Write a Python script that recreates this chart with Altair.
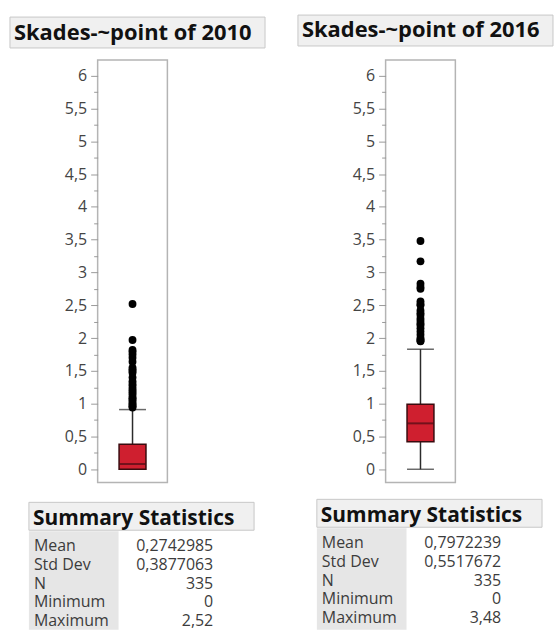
import altair as alt
import pandas as pd

# ---------------- data ----------------
years = ["2010", "2016"]
titles = ["Skades-~point of 2010", "Skades-~point of 2016"]
whisker_low = [0.0, 0.0]
q1 = [0.0, 0.42]
median = [0.08, 0.70]
q3 = [0.38, 0.99]
whisker_high = [0.91, 1.83]
outliers_2010 = [2.52, 1.97, 1.82, 1.79, 1.75, 1.70, 1.64, 1.55, 1.52, 1.50, 1.47,
                 1.40, 1.34, 1.30, 1.27, 1.23, 1.20, 1.17, 1.14, 1.10, 1.08, 1.06,
                 1.03, 1.00, 0.98, 0.96, 0.94]
outliers_2016 = [3.48, 3.17, 2.83, 2.78, 2.75, 2.56, 2.52, 2.50, 2.42, 2.38, 2.35,
                 2.30, 2.26, 2.22, 2.20, 2.15, 2.10, 2.05, 2.00, 1.98, 1.96, 1.95]
stat_labels = ["Mean", "Std Dev", "N", "Minimum", "Maximum"]
stats_2010 = ["0,2742985", "0,3877063", "335", "0", "2,52"]
stats_2016 = ["0,7972239", "0,5517672", "335", "0", "3,48"]
tick_values = [0, 0.25, 0.5, 0.75, 1, 1.25, 1.5, 1.75, 2, 2.25, 2.5, 2.75, 3,
               3.25, 3.5, 3.75, 4, 4.25, 4.5, 4.75, 5, 5.25, 5.5, 5.75, 6]

FONT = "Open Sans"
RED = "#cf1f2f"
DARK = "#2b2b2b"


def panel(i, outs, stats):
    box_df = pd.DataFrame({
        "year": [years[i]], "lo": [whisker_low[i]], "q1": [q1[i]],
        "median": [median[i]], "q3": [q3[i]], "hi": [whisker_high[i]],
    })
    out_df = pd.DataFrame({"year": [years[i]] * len(outs), "value": outs})

    yscale = alt.Scale(domain=[-0.2, 6.24], nice=False, zero=False)
    yaxis = alt.Axis(
        values=tick_values,
        labelExpr="datum.value % 0.5 == 0 ? replace(toString(datum.value), '.', ',') : ''",
        tickSize={"condition": {"test": "datum.value % 0.5 == 0", "value": 7}, "value": 4},
        domain=False, grid=False, title=None,
        labelFont=FONT, labelFontSize=16, labelColor="#444444",
        tickColor="#9a9a9a", tickWidth=1, labelPadding=4,
    )
    x = alt.X("year:N", axis=None, scale=alt.Scale(domain=[years[i]]))
    base = alt.Chart(box_df).encode(x=x)

    lower = base.mark_rule(color=DARK, strokeWidth=1.5).encode(
        y=alt.Y("lo:Q", scale=yscale, axis=yaxis), y2="q1:Q")
    upper = base.mark_rule(color=DARK, strokeWidth=1.5).encode(
        y=alt.Y("q3:Q", scale=yscale, axis=yaxis), y2="hi:Q")
    cap_lo = base.mark_tick(size=27, thickness=1.5, color=DARK).encode(
        y=alt.Y("lo:Q", scale=yscale, axis=yaxis))
    cap_hi = base.mark_tick(size=27, thickness=1.5, color=DARK).encode(
        y=alt.Y("hi:Q", scale=yscale, axis=yaxis))
    box = base.mark_bar(size=27, color=RED, stroke="#3a0b0f", strokeWidth=1.5).encode(
        y=alt.Y("q1:Q", scale=yscale, axis=yaxis), y2="q3:Q")
    med = base.mark_tick(size=27, thickness=2, color="#4a0c12").encode(
        y=alt.Y("median:Q", scale=yscale, axis=yaxis))
    pts = alt.Chart(out_df).mark_circle(size=62, color="black", opacity=1).encode(
        x=x, y=alt.Y("value:Q", scale=yscale, axis=yaxis))
    boxgroup = alt.layer(lower, upper, cap_lo, cap_hi, box, med, pts)

    # title box
    tdf = pd.DataFrame({"t": [titles[i]]})
    t_rect = alt.Chart(tdf).mark_rect(fill="#f0f0f0", stroke="#c8c8c8", strokeWidth=1).encode(
        x=alt.value(-88), x2=alt.value(168), y=alt.value(-43 - i * 2), y2=alt.value(-12 - i * 2))
    t_text = alt.Chart(tdf).mark_text(align="left", baseline="alphabetic", font=FONT,
                                      fontWeight="bold", fontSize=22, color="#111111").encode(
        text="t:N", x=alt.value(-84), y=alt.value(-20 - i * 3))

    # summary statistics table
    hdf = pd.DataFrame({"h": ["Summary Statistics"]})
    h_rect = alt.Chart(hdf).mark_rect(fill="#f0f0f0", stroke="#c8c8c8", strokeWidth=1).encode(
        x=alt.value(-69), x2=alt.value(157), y=alt.value(444 - i * 3), y2=alt.value(472 - i * 3))
    h_text = alt.Chart(hdf).mark_text(align="left", baseline="alphabetic", font=FONT,
                                      fontWeight="bold", fontSize=21, color="#111111").encode(
        text="h:N", x=alt.value(-65), y=alt.value(467 - i * 3))
    g_rect = alt.Chart(hdf).mark_rect(fill="#e6e6e6").encode(
        x=alt.value(-69), x2=alt.value(21), y=alt.value(473 - i * 3), y2=alt.value(572))
    sdf = pd.DataFrame({"stat": stat_labels, "val": stats})
    row_y = alt.Y("stat:N", axis=None,
                  scale=alt.Scale(type="point", domain=stat_labels, padding=0,
                                  range=[493 - i * 3, 568 - i * 3]))
    lab = alt.Chart(sdf).mark_text(align="left", baseline="alphabetic", font=FONT,
                                   fontSize=16, color="#3c3c3c").encode(
        text="stat:N", x=alt.value(-64), y=row_y)
    val = alt.Chart(sdf).mark_text(align="right", baseline="alphabetic", font=FONT,
                                   fontSize=16, color="#3c3c3c").encode(
        text="val:N", x=alt.value(116), y=row_y)

    return alt.layer(t_rect, t_text, boxgroup, h_rect, g_rect, h_text, lab, val).resolve_scale(
        x="independent", y="independent").properties(width=70, height=424)


left = panel(0, outliers_2010, stats_2010)
right = panel(1, outliers_2016, stats_2016)

chart = alt.hconcat(left, right, spacing=219, bounds="flush").configure_view(
    stroke="#b4b4b4", strokeWidth=1.5
).properties(
    padding={"left": 8, "top": 12, "right": 0, "bottom": 0},
    background="white",
)

chart.save("out.html", embed_options={"renderer": "svg", "actions": False})
